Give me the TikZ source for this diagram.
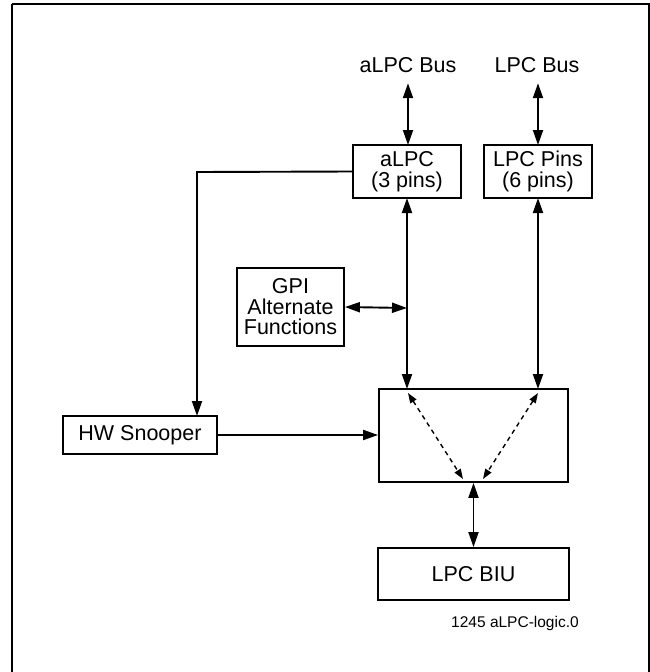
\documentclass[tikz,border=0pt]{standalone}
\usepackage{fontspec}
\setmainfont{Liberation Sans}
\usetikzlibrary{arrows.meta}
\begin{document}
\begin{tikzpicture}[x=1pt,y=-1pt,
  box/.style={draw,line width=1.8pt,inner sep=0pt,align=center,font=\fontsize{21.5}{20.5}\selectfont},
  lbl/.style={inner sep=0pt,font=\fontsize{21.5}{20.5}\selectfont},
  conn/.style={line width=1.9pt},
  biarrow/.style={conn,{Triangle[length=15pt,width=10pt]}-{Triangle[length=15pt,width=10pt]}},
  onearrow/.style={conn,-{Triangle[length=15pt,width=10pt]}},
  dasharrow/.style={line width=1.4pt,dash pattern=on 4.5pt off 4pt,{Triangle[length=10pt,width=7pt]}-{Triangle[length=10pt,width=7pt]}}]
\useasboundingbox (0,0) rectangle (650,672);
\draw[line width=2pt] (12,4) -- (649,4) -- (649,690) (12,690) -- (12,4);
% labels
\node[lbl,minimum height=26pt] (busA) at (408,65) {aLPC Bus};
\node[lbl,minimum height=26pt] (busL) at (537,65) {LPC Bus};
% boxes
\node[box,minimum width=108pt,minimum height=53pt] (alpc) at (407,171.5) {aLPC\\(3 pins)};
\node[box,minimum width=108pt,minimum height=53pt] (pins) at (538,171.5) {LPC Pins\\(6 pins)};
\node[box,minimum width=107pt,minimum height=78pt] (gpi) at (290.5,307) {GPI\\Alternate\\Functions};
\node[box,minimum width=189pt,minimum height=93pt] (mux) at (473.5,435.5) {};
\node[box,minimum width=154pt,minimum height=38pt] (hw) at (140,435) {HW Snooper};
\node[box,minimum width=191pt,minimum height=52pt] (biu) at (473.5,574) {LPC BIU};
\node[inner sep=0pt,font=\fontsize{15.5}{15}\selectfont] (cap) at (515,623) {1245 aLPC-logic.0};
% coordinates
\coordinate (aTop) at (408,145);
\coordinate (lTop) at (538,145);
\coordinate (aBot) at (407,198);
\coordinate (lBot) at (538,198);
\coordinate (mA) at (407,389);
\coordinate (mL) at (538,389);
\coordinate (jn) at (407,308);
\coordinate (corner) at (197,172);
\coordinate (hwTop) at (197,416);
\coordinate (mIn) at (mux.west |- hw.east);
\coordinate (d1a) at (408,393);
\coordinate (d1b) at (463,479);
\coordinate (d2a) at (538,393);
\coordinate (d2b) at (483,479);
% connectors
\draw[biarrow] (busA.south) ++(0,5) -- (aTop);
\draw[biarrow] (busL.south) ++(1,5) -- (lTop);
\draw[biarrow] (aBot) -- (mA);
\draw[biarrow] (lBot) -- (mL);
\draw[biarrow] (gpi.east) -- (jn);
\draw[onearrow] (alpc.west) -- (corner) -- (hwTop);
\draw[onearrow] (hw.east) -- (mIn);
\draw[biarrow] (mux.south) -- (biu.north);
\draw[dasharrow] (d1a) -- (d1b);
\draw[dasharrow] (d2a) -- (d2b);
\end{tikzpicture}
\end{document}
